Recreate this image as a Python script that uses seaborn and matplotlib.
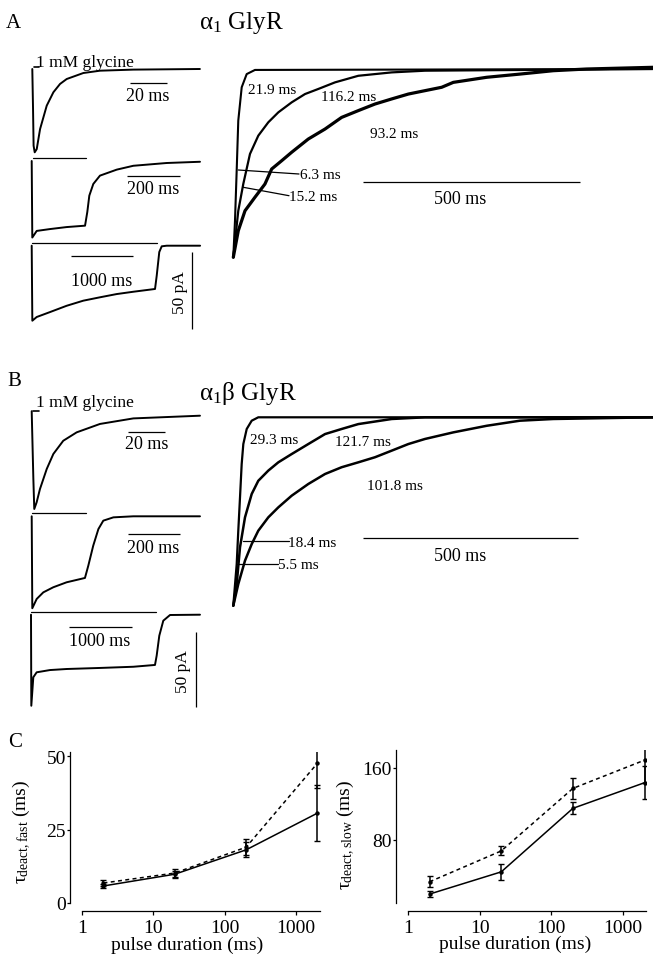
import matplotlib
matplotlib.use("Agg")
import matplotlib.pyplot as plt
from matplotlib.ticker import NullLocator
import numpy as np
import pandas as pd
import seaborn as sns

# ---------------- data ----------------
# Panel A, left: alpha1 GlyR responses to 2, 200, 2000 ms pulses (time ms, current pA)
A_t1 = [0, 0.4, 0.7, 1.3, 2.4, 4.2, 7.8, 11.4, 15.0, 18.6, 27.6, 36.6, 54.6, 90.6]
A_i1 = [0, -26, -49.8, -54.1, -52, -39, -23.8, -15.1, -9.7, -6.5, -2.6, -1.1, -0.4, 0]
A_t2 = [0, 2.2, 18.8, 68.6, 131, 200, 208.5, 216, 231, 256, 319, 381, 506, 631]
A_i2 = [0, -49.7, -45.4, -44.2, -42.9, -42, -33.1, -22.5, -14.9, -9.5, -5.6, -3.1, -1.3, -0.5]
A_t3 = [0, 10, 80, 292, 559, 824, 1091, 1358, 1623, 1970, 1997, 2038, 2077, 2157, 2690]
A_i3 = [0, -48.7, -46.3, -43.1, -39, -35.7, -33.5, -31.4, -29.9, -28.1, -19.5, -4.1, -0.4, 0, 0]

# Panel B, left: alpha1beta GlyR
B_t1 = [0, 0.9, 1.4, 2.7, 4.5, 8.2, 11.8, 17.2, 24.5, 37.2, 55.4, 91.7]
B_i1 = [3, -42, -62.2, -57.7, -48.9, -35.5, -25.5, -16.7, -11.1, -5.5, -1.8, 0]
B_t2 = [0, 2.3, 19.3, 44.9, 83.6, 135, 206, 219, 238, 258, 277, 316, 393, 651]
B_i2 = [0, -61.3, -55.1, -50.7, -47.3, -44, -41.1, -32.9, -19.6, -8.5, -2.9, -0.7, 0, 0]
B_t3 = [0, 5, 37, 91, 304, 572, 1106, 1641, 1987, 2014, 2056, 2120, 2228, 2708]
B_i3 = [0, -60.7, -41.7, -38.4, -36.9, -36.2, -35.5, -34.7, -33.5, -27.3, -14, -4, -0.2, 0]

# Panel A, right: normalised deactivation currents (time ms after pulse end)
Ar_fast_t = [0, 3.9, 7.8, 11.5, 19.4, 30.9, 50, 968]
Ar_fast_i = [-1, -0.806, -0.54, -0.274, -0.097, -0.027, -0.005, 0]
Ar_med_t = [0, 11.5, 23.1, 38.5, 57.7, 80.8, 104, 134.8, 165.5, 196.2, 234.7, 288.5, 365.6, 442.4, 968]
Ar_med_i = [-1, -0.753, -0.61, -0.451, -0.354, -0.283, -0.230, -0.177, -0.133, -0.106, -0.071, -0.036, -0.018, -0.009, 0]
Ar_slow_t = [0, 11.5, 27, 50, 73, 88.6, 111.7, 134.8, 173, 211.6, 250, 288.5, 327, 365.6, 404, 442.4,
             481, 507.7, 584.8, 661.6, 738.5, 815.6, 969]
Ar_slow_i = [-1, -0.859, -0.753, -0.681, -0.611, -0.531, -0.487, -0.442, -0.372, -0.319, -0.257, -0.221,
             -0.186, -0.159, -0.133, -0.115, -0.097, -0.071, -0.044, -0.027, -0.009, 0, 0.009]

# Panel B, right
Br_fast_t = [0, 7.9, 11.6, 15.6, 19.5, 23.3, 31.2, 42.8, 58.1, 976]
Br_fast_i = [-1, -0.779, -0.602, -0.425, -0.248, -0.142, -0.062, -0.018, 0, 0]
Br_med_t = [0, 7.9, 15.6, 27.2, 42.8, 58.1, 81.4, 104.7, 135.8, 174.4, 213.3, 252, 290.7, 368.4, 445.8, 976]
Br_med_i = [-1, -0.885, -0.69, -0.531, -0.407, -0.337, -0.283, -0.239, -0.195, -0.142, -0.089, -0.062,
            -0.036, -0.009, 0, 0]
Br_slow_t = [0, 11.6, 27.2, 42.8, 58.1, 81.4, 104.7, 135.8, 174.4, 213.3, 252, 290.7, 329.5, 368.4, 407,
             445.8, 511.6, 589.3, 666.7, 744, 976]
Br_slow_i = [-1, -0.885, -0.761, -0.673, -0.602, -0.531, -0.478, -0.416, -0.354, -0.301, -0.265, -0.239,
             -0.212, -0.177, -0.142, -0.115, -0.080, -0.045, -0.018, -0.009, 0]

# Panel C: deactivation time constants vs pulse duration
pulse_ms = [2, 20, 200, 2000]
fast_solid = [5.8, 9.8, 18.1, 30.6]
fast_solid_err = [0.8, 1.2, 2.5, 9.5]
fast_dashed = [6.8, 10.2, 19.0, 47.6]
fast_dashed_err = [0.9, 1.3, 2.8, 8.5]
slow_solid = [19.9, 44.5, 114.9, 143.3]
slow_solid_err = [3.7, 9.0, 6.8, 18.4]
slow_dashed = [33.5, 67.7, 137.0, 168.3]
slow_dashed_err = [6.0, 5.0, 12.0, 25.9]
x_ticks = [1, 10, 100, 1000]
x_tick_labels = ["1", "10", "100", "1000"]

# ---------------- style ----------------
sns.set_style("ticks")
plt.rcParams["font.family"] = ["Liberation Serif", "DejaVu Serif"]
plt.rcParams["mathtext.fontset"] = "custom"
plt.rcParams["mathtext.rm"] = "Liberation Serif"
plt.rcParams["mathtext.it"] = "Liberation Serif:italic"
plt.rcParams["mathtext.bf"] = "Liberation Serif:bold"
plt.rcParams["axes.linewidth"] = 0.9
for key in ["text.color", "axes.labelcolor", "xtick.color", "ytick.color", "axes.edgecolor"]:
    plt.rcParams[key] = "black"

W, H = 653, 962
fig = plt.figure(figsize=(W / 100, H / 100), dpi=100)
fig.patch.set_facecolor("white")

trace_axes = []


def make_trace_ax(box, x0, y0, sx, sy):
    L, T, R, B = box
    ax = fig.add_axes([L / W, 1 - B / H, (R - L) / W, (B - T) / H])
    ax.m = (x0, y0, sx, sy)
    ax.lims = ((L - x0) / sx, (R - x0) / sx), ((y0 - B) / sy, (y0 - T) / sy)
    ax.set_axis_off()
    trace_axes.append(ax)
    return ax


def d(ax, x, y):
    x0, y0, sx, sy = ax.m
    return (x - x0) / sx, (y0 - y) / sy


def trace(ax, t, i, lw=1.4):
    sns.lineplot(x=t, y=i, ax=ax, color="black", lw=lw, sort=False,
                 estimator=None, legend=False)


def hbar(ax, x, y, length, lw=0.9):
    t, c = d(ax, x, y)
    ax.plot([t, t + length], [c, c], color="black", lw=lw, solid_capstyle="butt")


def vbar(ax, x, y, length, lw=0.9):
    t, c = d(ax, x, y)
    ax.plot([t, t], [c, c - length], color="black", lw=lw, solid_capstyle="butt")


# ---------------- Panel A left ----------------
a1 = make_trace_ax((24, 55, 215, 162), 32.3, 70, 1.85, 1.54)
trace(a1, A_t1, A_i1)
t, c = d(a1, 34.3, 67.7)
a1.plot([t, t + 2.7], [c, c], color="black", lw=1.2)
hbar(a1, 130, 84, 20)

a2 = make_trace_ax((24, 150, 215, 245), 31.7, 162, 0.2667, 1.54)
trace(a2, A_t2, A_i2)
t, c = d(a2, 33, 159.3)
a2.plot([t, t + 200], [c, c], color="black", lw=0.9)
hbar(a2, 126.7, 176.7, 200)

a3 = make_trace_ax((24, 238, 215, 335), 31.7, 246.7, 0.0626, 1.54)
trace(a3, A_t3, A_i3)
t, c = d(a3, 31.7, 244.3)
a3.plot([t, t + 2000], [c, c], color="black", lw=0.9)
hbar(a3, 70.7, 257.3, 1000)
vbar(a3, 192.3, 253.3, 50)

# ---------------- Panel B left ----------------
b1 = make_trace_ax((24, 400, 215, 515), 31.7, 416.7, 1.835, 1.5)
trace(b1, B_t1, B_i1)
t, c = d(b1, 33.3, 411.7)
b1.plot([t, t + 3.0], [c, c], color="black", lw=1.2)
hbar(b1, 128.3, 433.3, 20)

b2 = make_trace_ax((24, 508, 215, 612), 31.7, 517.3, 0.2585, 1.5)
trace(b2, B_t2, B_i2)
t, c = d(b2, 31.7, 514.3)
b2.plot([t, t + 210], [c, c], color="black", lw=0.9)
hbar(b2, 128.3, 535, 200)

b3 = make_trace_ax((24, 606, 215, 712), 31.0, 615.7, 0.0624, 1.5)
trace(b3, B_t3, B_i3)
t, c = d(b3, 31.0, 613.3)
b3.plot([t, t + 2000], [c, c], color="black", lw=0.9)
hbar(b3, 69.3, 627.7, 1000)
vbar(b3, 196, 633.3, 50)

# ---------------- right traces ----------------
ar = make_trace_ax((226, 58, 653, 266), 233.3, 70, 0.4333, 188.3)
trace(ar, Ar_fast_t, Ar_fast_i, lw=1.5)
trace(ar, Ar_med_t, Ar_med_i, lw=1.6)
trace(ar, Ar_slow_t, Ar_slow_i, lw=2.3)
hbar(ar, 363.3, 182.7, 500)

br = make_trace_ax((226, 405, 653, 614), 233.3, 418.3, 0.43, 188.4)
trace(br, Br_fast_t, Br_fast_i, lw=1.6)
trace(br, Br_med_t, Br_med_i, lw=1.8)
trace(br, Br_slow_t, Br_slow_i, lw=1.8)
hbar(br, 363.3, 539.3, 500)

for ax in trace_axes:
    ax.set_xlim(*ax.lims[0])
    ax.set_ylim(*ax.lims[1])

# ---------------- Panel C ----------------
def c_axes(box):
    L, T, R, B = box
    ax = fig.add_axes([L / W, 1 - B / H, (R - L) / W, (B - T) / H])
    ax.set_facecolor("none")
    return ax


def finish_c(ax, ylim, xlim, yticks, ylabel, lab_x, lab_y, xlab_x, xlab_y):
    ax.set_xscale("log")
    ax.set_xlim(*xlim)
    ax.set_ylim(*ylim)
    ax.set_xticks(x_ticks)
    ax.set_xticklabels(x_tick_labels)
    ax.xaxis.set_minor_locator(NullLocator())
    ax.set_yticks(yticks)
    ax.set_yticklabels([str(v) for v in yticks])
    sns.despine(ax=ax, offset={"left": 8.5, "bottom": 5.5})
    ax.tick_params(axis="x", direction="out", length=3, width=0.9, labelsize=14, pad=3,
                   colors="black")
    ax.tick_params(axis="y", direction="out", length=2.5, width=0.9, labelsize=14, pad=0.5,
                   colors="black")
    ax.set_xlabel("pulse duration (ms)", fontsize=14, color="black")
    ax.xaxis.set_label_coords(xlab_x, xlab_y)
    ax.set_ylabel(ylabel, fontsize=14, color="black")
    ax.yaxis.set_label_coords(lab_x, lab_y)
    for s in ("left", "bottom"):
        ax.spines[s].set_color("black")


def series(ax, y, err, dashed):
    ls = (0, (2.6, 2.2)) if dashed else "-"
    sns.lineplot(x=pulse_ms, y=y, ax=ax, color="black", lw=1.1, linestyle=ls,
                 marker="o", markersize=3.2, markeredgewidth=0, estimator=None,
                 sort=False, legend=False)
    ax.errorbar(pulse_ms, y, yerr=err, fmt="none", ecolor="black", elinewidth=1.1,
                capsize=2.2, capthick=1.0)


cl = c_axes((82, 753, 320, 904))
series(cl, fast_solid, fast_solid_err, False)
series(cl, fast_dashed, fast_dashed_err, True)
finish_c(cl, (0, 51.4), (1, 2170), [0, 25, 50],
         r"$\mathrm{\tau}_{\mathrm{deact,fast}}$ (ms)", -0.205, 0.48, 0.44, -0.215)

cr = c_axes((408, 751, 646, 904))
series(cr, slow_solid, slow_solid_err, False)
series(cr, slow_dashed, slow_dashed_err, True)
finish_c(cr, (10, 179.5), (1, 2090), [80, 160],
         r"$\mathrm{\tau}_{\mathrm{deact,slow}}$ (ms)", -0.215, 0.45, 0.452, -0.209)

# ---------------- text overlay (pixel coordinates) ----------------
ov = fig.add_axes([0, 0, 1, 1])
ov.set_xlim(0, W)
ov.set_ylim(H, 0)
ov.set_axis_off()
ov.patch.set_alpha(0)


def txt(x, y, s, size, ha="left", va="center", rot=0):
    ov.text(x, y, s, fontsize=size, ha=ha, va=va, rotation=rot, color="black")


def seg(x1, y1, x2, y2):
    ov.plot([x1, x2], [y1, y2], color="black", lw=0.9)


# panel letters
txt(6, 28, "A", 15, va="baseline")
txt(7, 386, "B", 15, va="baseline")
txt(8, 747, "C", 15, va="baseline")

# titles
txt(199, 28.5, r"$\mathrm{\alpha}_{1}$ GlyR", 18, va="baseline")
txt(199, 400, r"$\mathrm{\alpha}_{1}\mathrm{\beta}$ GlyR", 18, va="baseline")

# left column labels
txt(36, 67, "1 mM glycine", 12.5, va="baseline")
txt(148, 96.5, "20 ms", 13, ha="center")
txt(153, 190, "200 ms", 13, ha="center")
txt(102, 281.7, "1000 ms", 13, ha="center")
txt(180, 293, "50 pA", 12.5, ha="center", rot=90)

txt(36, 407, "1 mM glycine", 12.5, va="baseline")
txt(146.7, 445, "20 ms", 13, ha="center")
txt(153.3, 548.3, "200 ms", 13, ha="center")
txt(100, 641.7, "1000 ms", 13, ha="center")
txt(183.3, 671.7, "50 pA", 12.5, ha="center", rot=90)

# right panel A labels
txt(248.3, 90, "21.9 ms", 11)
txt(321, 97.7, "116.2 ms", 11)
txt(370, 134.3, "93.2 ms", 11)
txt(300, 175.7, "6.3 ms", 11)
seg(238.3, 171, 299, 175)
txt(289, 197.7, "15.2 ms", 11)
seg(243.3, 188.3, 289, 196.7)
txt(460, 200, "500 ms", 13, ha="center")

# right panel B labels
txt(250, 441, "29.3 ms", 11)
txt(335, 442.3, "121.7 ms", 11)
txt(366.7, 486.7, "101.8 ms", 11)
txt(288.5, 543.3, "18.4 ms", 11)
seg(243.3, 542.3, 289, 542.3)
txt(278.5, 566, "5.5 ms", 11)
seg(236.7, 565, 278, 565)
txt(460, 556.7, "500 ms", 13, ha="center")

fig.savefig("out.png", dpi=100, facecolor="white")
